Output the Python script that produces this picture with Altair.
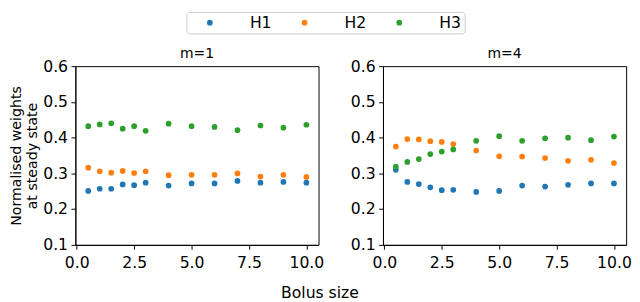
import altair as alt
import pandas as pd

# Bolus sizes (x)
bolus = [0.5, 1, 1.5, 2, 2.5, 3, 4, 5, 6, 7, 8, 9, 10]
series_names = ["H1", "H2", "H3"]
series_colors = ["#1f77b4", "#ff7f0e", "#2ca02c"]
panels = ["m=1", "m=4"]

# m=1 panel
m1_h1 = [0.251, 0.257, 0.257, 0.269, 0.267, 0.274, 0.266, 0.272, 0.272, 0.279, 0.274, 0.276, 0.274]
m1_h2 = [0.316, 0.306, 0.302, 0.307, 0.301, 0.306, 0.295, 0.296, 0.296, 0.300, 0.291, 0.296, 0.290]
m1_h3 = [0.432, 0.437, 0.440, 0.425, 0.432, 0.419, 0.439, 0.432, 0.430, 0.421, 0.434, 0.428, 0.436]
# m=4 panel
m4_h1 = [0.310, 0.276, 0.270, 0.261, 0.253, 0.254, 0.248, 0.251, 0.266, 0.263, 0.268, 0.272, 0.272]
m4_h2 = [0.375, 0.396, 0.395, 0.390, 0.388, 0.382, 0.364, 0.348, 0.347, 0.343, 0.335, 0.338, 0.329]
m4_h3 = [0.319, 0.332, 0.340, 0.354, 0.361, 0.367, 0.391, 0.404, 0.391, 0.398, 0.400, 0.393, 0.403]

x_ticks = [0, 2.5, 5, 7.5, 10]
y_ticks = [0.1, 0.2, 0.3, 0.4, 0.5, 0.6]

rows = []
for panel, vals in [("m=1", [m1_h1, m1_h2, m1_h3]), ("m=4", [m4_h1, m4_h2, m4_h3])]:
    for s, v in zip(series_names, vals):
        for xv, yv in zip(bolus, v):
            rows.append({"panel": panel, "series": s, "x": xv, "value": yv})
df = pd.DataFrame(rows)

FONT = "DejaVu Sans"


def make_panel(name, first):
    yaxis = alt.Axis(
        values=y_ticks, format=".1f",
        title=["Normalised weights", "at steady state"] if first else None,
        titleFontSize=14.5, titleFontWeight="normal", titleLineHeight=17,
        titlePadding=3, labelPadding=3.5,
    )
    legend = alt.Legend(
        title=None, orient="none", direction="horizontal",
        legendX=113.7, legendY=-55.5,
        strokeColor="#cccccc", fillColor="white", cornerRadius=3,
        padding=3, labelFontSize=16, labelFont=FONT, labelColor="black",
        symbolSize=34, symbolType="circle", symbolStrokeWidth=0,
        symbolOffset=13, labelOffset=33, columnPadding=12,
    )
    return alt.Chart(df[df.panel == name]).mark_circle(size=34, opacity=1).encode(
        x=alt.X("x:Q", scale=alt.Scale(domain=[-0.06, 10.53], nice=False, zero=False),
                axis=alt.Axis(values=x_ticks, format=".1f", title=None, labelPadding=6)),
        y=alt.Y("value:Q", scale=alt.Scale(domain=[0.1, 0.6], nice=False, zero=False),
                axis=yaxis),
        color=alt.Color("series:N",
                        scale=alt.Scale(domain=series_names, range=series_colors),
                        legend=legend),
    ).properties(
        width=249, height=183,
        title=alt.TitleParams(name, frame="group", anchor="middle", offset=-3),
    )


left = make_panel("m=1", True)
right = make_panel("m=4", False)

chart = alt.hconcat(left, right, spacing=26).properties(
    padding={"left": 0, "top": 0, "right": 0, "bottom": 0},
    title=alt.TitleParams("Bolus size", orient="bottom", anchor="middle",
                          fontSize=16, font=FONT, fontWeight="normal",
                          color="black", offset=14),
).configure_view(
    stroke="black", strokeWidth=1
).configure_axis(
    grid=False, domainColor="black", tickColor="black", labelColor="black",
    titleColor="black", labelFont=FONT, titleFont=FONT, labelFontSize=16,
    tickSize=4.5, labelPadding=4, domainWidth=1, tickWidth=1,
).configure_title(
    font=FONT, fontSize=14.3, fontWeight="normal", color="black",
)

chart.save("out.html", embed_options={"renderer": "svg", "actions": False})
